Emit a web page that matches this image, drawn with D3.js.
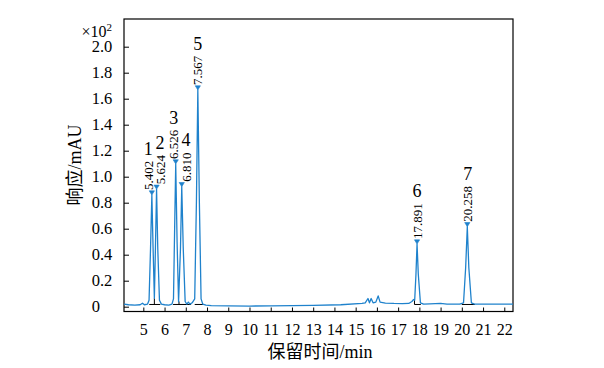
<!DOCTYPE html>
<html>
<head>
<meta charset="utf-8">
<script src="https://cdn.jsdelivr.net/npm/d3@7"></script>
<style>
  html, body { margin: 0; padding: 0; background: #fff; }
  svg { display: block; }
</style>
</head>
<body>
<script>
// ---- data ----
// chromatogram trace: retention time (min) and response (x10^2 mAU)
const traceTime = [4.09, 4.3, 4.6, 4.85, 4.96, 5.05, 5.2, 5.27, 5.34, 5.402, 5.46, 5.52, 5.57, 5.624, 5.68, 5.76, 5.85, 6.0, 6.2, 6.35, 6.42, 6.47, 6.526, 6.59, 6.66, 6.75, 6.81, 6.88, 6.97, 7.05, 7.12, 7.2, 7.3, 7.42, 7.5, 7.567, 7.64, 7.72, 7.8, 7.95, 8.2, 9, 10, 11, 12, 13, 14.3, 15.3, 15.45, 15.58, 15.65, 15.73, 15.82, 15.95, 16.06, 16.15, 16.4, 16.8, 17.2, 17.5, 17.65, 17.72, 17.78, 17.84, 17.891, 17.95, 18.05, 18.2, 18.5, 19.0, 19.3, 19.9, 20.08, 20.18, 20.258, 20.33, 20.45, 20.6, 21.0, 21.5, 22.0, 22.41];
const traceValue = [0.02, 0.015, 0.012, 0.015, 0.027, 0.015, 0.02, 0.05, 0.45, 0.859, 0.45, 0.065, 0.45, 0.903, 0.45, 0.05, 0.02, 0.015, 0.012, 0.02, 0.06, 0.55, 1.098, 0.5, 0.038, 0.45, 0.923, 0.45, 0.04, 0.02, 0.035, 0.02, 0.03, 0.06, 0.8, 1.667, 0.8, 0.06, 0.02, 0.012, 0.008, 0.006, 0.005, 0.006, 0.008, 0.01, 0.015, 0.025, 0.03, 0.063, 0.03, 0.063, 0.03, 0.035, 0.083, 0.035, 0.028, 0.025, 0.024, 0.025, 0.04, 0.055, 0.05, 0.25, 0.482, 0.25, 0.03, 0.02, 0.022, 0.025, 0.02, 0.02, 0.03, 0.3, 0.615, 0.3, 0.03, 0.02, 0.02, 0.02, 0.02, 0.02];

// labelled peaks
const peakNumbers = ["1", "2", "3", "4", "5", "6", "7"];
const peakTimes = [5.402, 5.624, 6.526, 6.810, 7.567, 17.891, 20.258];
const peakHeights = [0.859, 0.903, 1.098, 0.923, 1.667, 0.482, 0.615];
const peakTimeLabels = ["5.402", "5.624", "6.526", "6.810", "7.567", "17.891", "20.258"];

// integration baselines (start, end) and split drops
const intStart = [5.28, 6.40, 7.42, 17.77, 20.0];
const intEnd = [5.80, 7.25, 7.85, 18.07, 20.62];
const intLevel = 0.017;
const splitTimes = [5.52, 6.68, 17.77];
const splitValues = [0.065, 0.04, 0.05];

// axes
const xTickValues = [5, 6, 7, 8, 9, 10, 11, 12, 13, 14, 15, 16, 17, 18, 19, 20, 21, 22];
const yTickValues = [0, 0.2, 0.4, 0.6, 0.8, 1.0, 1.2, 1.4, 1.6, 1.8, 2.0];
const yTickLabels = ["0", "0.2", "0.4", "0.6", "0.8", "1.0", "1.2", "1.4", "1.6", "1.8", "2.0"];
const xTitleCJK = "保留时间", xTitleUnit = "/min";
const yTitleCJK = "响应", yTitleUnit = "/mAU";

// ---- layout ----
const W = 604, H = 368;
const L = 124, R = 513, T = 19, B = 311.5;
const labelDx = [-3.5, 3.5, -2, 4.3, 0, 0, 0.5];
const serif = "Liberation Serif, Times New Roman, Tinos, DejaVu Serif, serif";
const cjk = "Noto Sans CJK SC, Noto Sans CJK JP, sans-serif";
const blue = "#1f82cc";

const svg = d3.select("body").append("svg").attr("width", W).attr("height", H)
  .attr("font-family", serif);

const x = d3.scaleLinear().domain([4.09, 22.41]).range([L, R]);
const y = d3.scaleLinear().domain([-0.037, 2.213]).range([B, T]);

svg.append("defs").append("clipPath").attr("id", "plot")
  .append("rect").attr("x", L).attr("y", T).attr("width", R - L).attr("height", B - T);

// x axis
const gx = svg.append("g").attr("transform", `translate(0,${B})`)
  .call(d3.axisBottom(x).tickValues(xTickValues).tickSize(-4).tickFormat(d3.format("d")))
  .attr("font-family", serif).attr("font-size", 16);
gx.select(".domain").remove();
gx.selectAll(".tick line").attr("stroke", "#000");
gx.selectAll(".tick text").attr("y", 12.5).attr("fill", "#000");

// y axis
const gy = svg.append("g").attr("transform", `translate(${L},0)`)
  .call(d3.axisLeft(y).tickValues(yTickValues).tickSize(-5).tickFormat((d, i) => yTickLabels[i]))
  .attr("font-family", serif).attr("font-size", 16.5);
gy.select(".domain").remove();
gy.selectAll(".tick line").attr("stroke", "#000");
gy.selectAll(".tick text").attr("x", -32.3).attr("text-anchor", "start").attr("fill", "#000");

// x10^2 multiplier
const mult = svg.append("text").attr("x", 81.5).attr("y", 37)
  .attr("font-size", 16).attr("fill", "#000");
mult.append("tspan").text("×10");
mult.append("tspan").attr("dy", -6).attr("font-size", 11).text("2");

// frame
svg.append("rect").attr("x", L).attr("y", T).attr("width", R - L).attr("height", B - T)
  .attr("fill", "none").attr("stroke", "#000").attr("stroke-width", 1.2);

// integration marks
const gi = svg.append("g").attr("stroke", "#000").attr("stroke-width", 1);
gi.selectAll("line.base").data(intStart).join("line").attr("class", "base")
  .attr("x1", d => x(d)).attr("x2", (d, i) => x(intEnd[i]))
  .attr("y1", y(intLevel)).attr("y2", y(intLevel));
gi.selectAll("line.split").data(splitTimes).join("line").attr("class", "split")
  .attr("x1", d => x(d)).attr("x2", d => x(d))
  .attr("y1", y(intLevel)).attr("y2", (d, i) => y(splitValues[i]));

// trace
const line = d3.line().x(d => x(d[0])).y(d => y(d[1]));
svg.append("path").datum(d3.zip(traceTime, traceValue))
  .attr("clip-path", "url(#plot)")
  .attr("d", line).attr("fill", "none").attr("stroke", blue)
  .attr("stroke-width", 1.3).attr("stroke-linejoin", "round");

// peak markers and labels
const gp = svg.append("g").attr("font-family", serif);
peakTimes.forEach((t, i) => {
  const px = x(t), py = y(peakHeights[i]);
  gp.append("path").attr("d", `M${px - 2.6},${py - 4.2}L${px + 2.6},${py - 4.2}L${px},${py}Z`)
    .attr("fill", blue).attr("stroke", blue).attr("stroke-width", 0.6);
  const lx = px + labelDx[i], ly = py - 5;
  const rt = gp.append("text").attr("transform", `translate(${lx},${ly}) rotate(-90)`)
    .attr("dy", "0.35em").attr("text-anchor", "start")
    .attr("font-size", 13).attr("fill", "#000").text(peakTimeLabels[i]);
  const len = rt.node().getComputedTextLength();
  gp.append("text").attr("x", lx).attr("y", ly - len - 6).attr("text-anchor", "middle")
    .attr("font-size", 18).attr("fill", "#000").text(peakNumbers[i]);
});

// titles
const xt = svg.append("text").attr("x", 320).attr("y", 358).attr("text-anchor", "middle")
  .attr("font-size", 18).attr("fill", "#000");
xt.append("tspan").attr("font-family", cjk).text(xTitleCJK);
xt.append("tspan").attr("font-family", serif).text(xTitleUnit);

const yt = svg.append("text").attr("transform", "translate(75,165) rotate(-90)")
  .attr("dy", "0.35em").attr("text-anchor", "middle")
  .attr("font-size", 18).attr("fill", "#000");
yt.append("tspan").attr("font-family", cjk).text(yTitleCJK);
yt.append("tspan").attr("font-family", serif).text(yTitleUnit);
</script>
</body>
</html>
